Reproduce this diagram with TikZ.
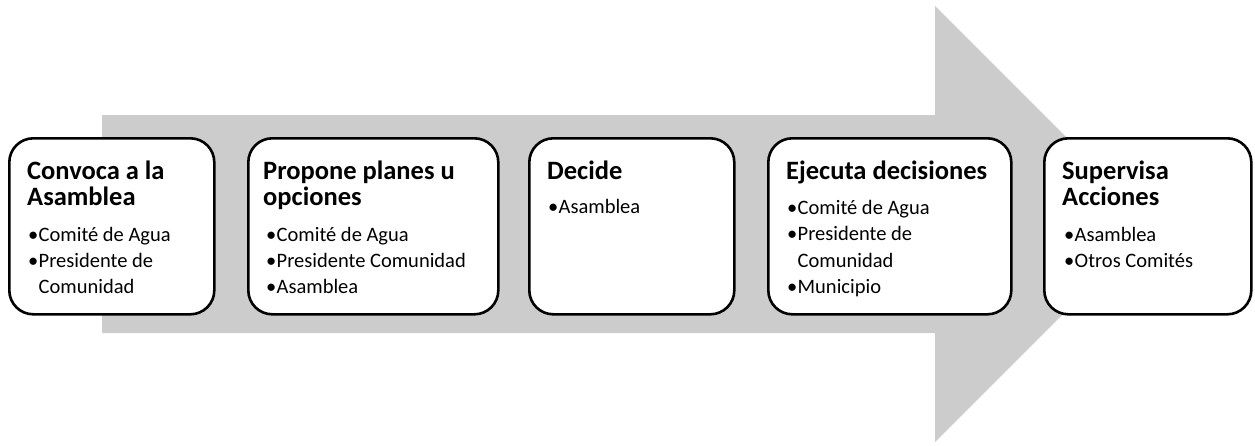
\documentclass[tikz,border=0pt]{standalone}
\usepackage{fontspec}
\setmainfont{Carlito}
\definecolor{arrowgray}{RGB}{204,204,204}
\newcommand{\bulletdot}{\makebox[10.5pt][l]{•}}
\begin{document}
\begin{tikzpicture}[x=1pt,y=-1pt,
  box/.style={draw=black, line width=2.6pt, fill=white, rounded corners=24pt, minimum height=176pt, anchor=north west, inner sep=0pt},
  ttl/.style={anchor=base west, inner sep=0pt, font=\fontsize{26.5}{30}\selectfont\bfseries},
  bodytxt/.style={anchor=base west, inner sep=0pt, font=\fontsize{20.5}{24}\selectfont},
]
\useasboundingbox (0,0) rectangle (1255,445);
% background arrow
\fill[arrowgray] (102,115) -- (935,115) -- (935,6) -- (1153,224) -- (935,442) -- (935,333) -- (102,333) -- cycle;

% boxes
\node[box, minimum width=205pt] (b1) at (8,137) {};
\node[box, minimum width=250pt] (b2) at (247,137) {};
\node[box, minimum width=205pt] (b3) at (528,137) {};
\node[box, minimum width=243pt] (b4) at (767,137) {};
\node[box, minimum width=207pt] (b5) at (1043,137) {};

% box 1
\node[ttl] (t1a) at (27,179) {Convoca a la};
\node[ttl] (t1b) at (27,205) {Asamblea};
\node[bodytxt] (t1c) at (28,241) {\bulletdot Comité de Agua};
\node[bodytxt] (t1d) at (28,267) {\bulletdot Presidente de};
\node[bodytxt] (t1e) at (38.5,293) {Comunidad};

% box 2
\node[ttl] (t2a) at (263,179) {Propone planes u};
\node[ttl] (t2b) at (263,205) {opciones};
\node[bodytxt] (t2c) at (266,241) {\bulletdot Comité de Agua};
\node[bodytxt] (t2d) at (266,267) {\bulletdot Presidente Comunidad};
\node[bodytxt] (t2e) at (266,293) {\bulletdot Asamblea};

% box 3
\node[ttl] (t3a) at (547,179) {Decide};
\node[bodytxt] (t3b) at (548,213) {\bulletdot Asamblea};

% box 4
\node[ttl] (t4a) at (786,179) {Ejecuta decisiones};
\node[bodytxt] (t4b) at (787,214) {\bulletdot Comité de Agua};
\node[bodytxt] (t4c) at (787,240.5) {\bulletdot Presidente de};
\node[bodytxt] (t4d) at (797.5,267) {Comunidad};
\node[bodytxt] (t4e) at (787,293.5) {\bulletdot Municipio};

% box 5
\node[ttl] (t5a) at (1062,179) {Supervisa};
\node[ttl] (t5b) at (1062,205) {Acciones};
\node[bodytxt] (t5c) at (1064,241) {\bulletdot Asamblea};
\node[bodytxt] (t5d) at (1064,267) {\bulletdot Otros Comités};
\end{tikzpicture}
\end{document}
